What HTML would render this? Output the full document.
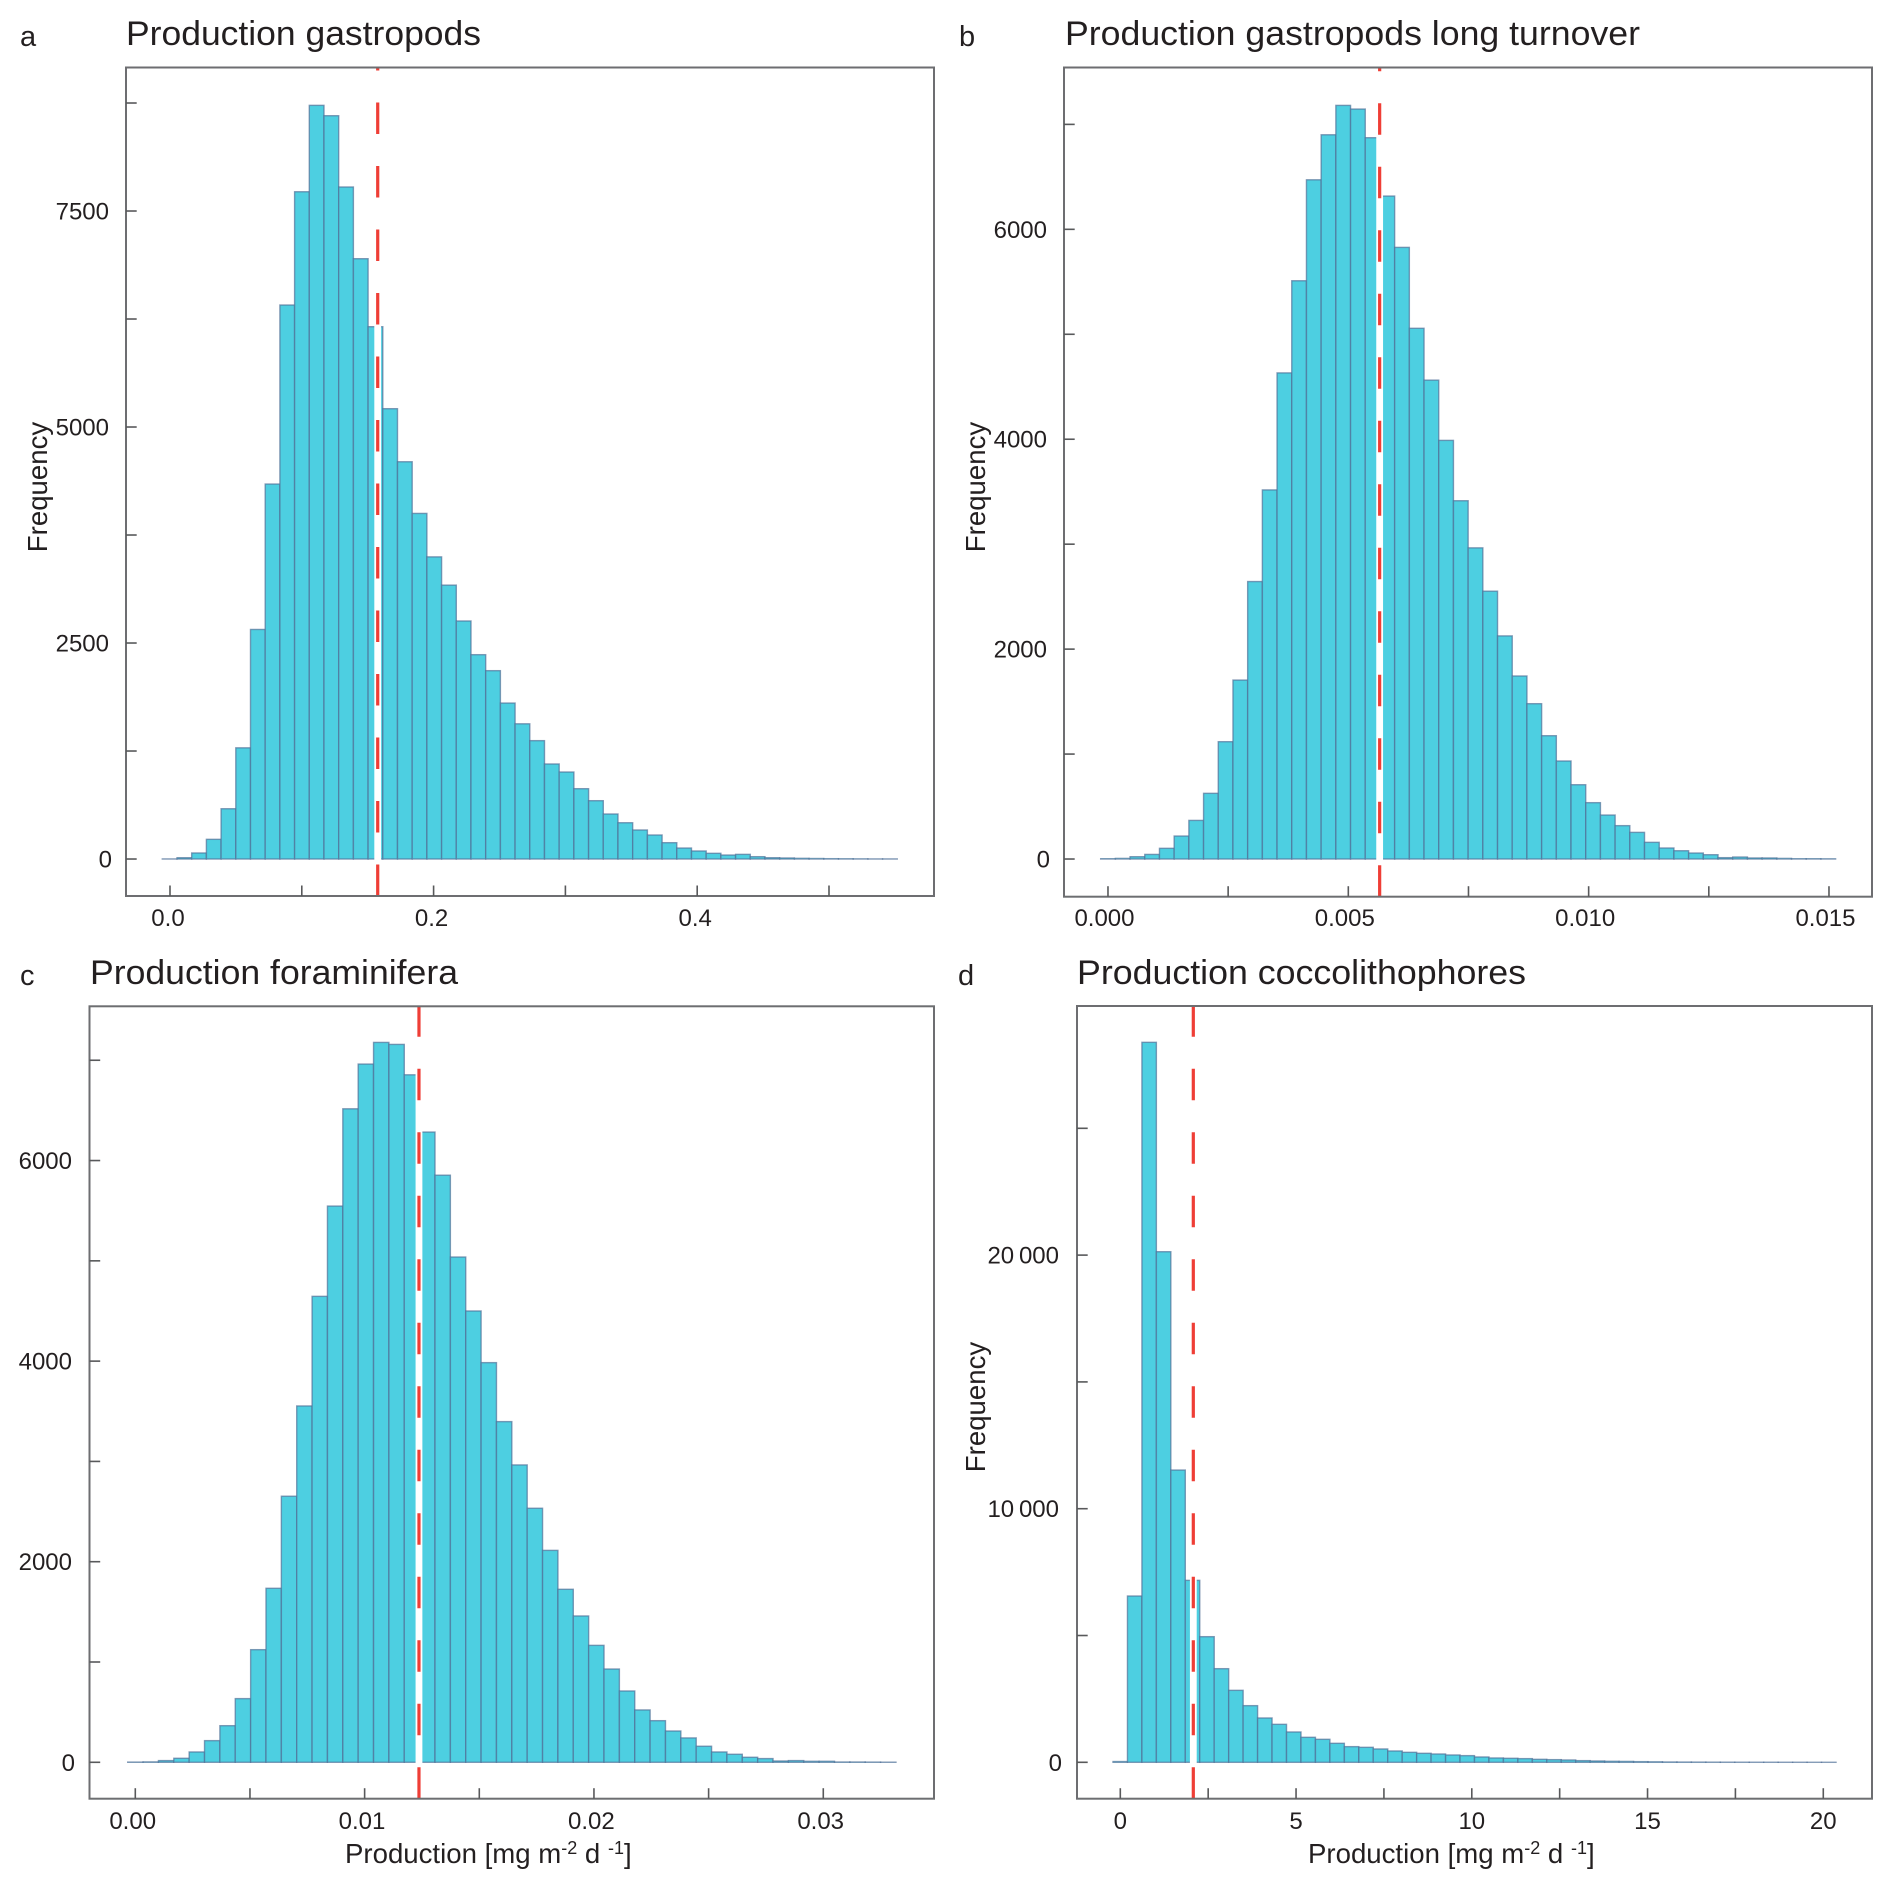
<!DOCTYPE html>
<html lang="en">
<head>
<meta charset="utf-8">
<title>Production histograms</title>
<style>
html,body{margin:0;padding:0;background:#fff}
svg{display:block}
text{font-family:"Liberation Sans",sans-serif;fill:#231f20}
.title{font-size:34px}
.tag{font-size:29px}
.axt{font-size:27.6px}
.tick{font-size:24px}
</style>
</head>
<body>
<svg id="fig" xmlns="http://www.w3.org/2000/svg" width="1892" height="1888" viewBox="0 0 1892 1888">
<rect x="0" y="0" width="1892" height="1888" fill="#fff"/>

<g id="panel-a"></g>
<g id="panel-b"></g>
<g id="panel-c"></g>
<g id="panel-d"></g>

<text class="tag" x="20" y="46">a</text>
<text class="tag" x="959" y="46">b</text>
<text class="tag" x="20" y="985">c</text>
<text class="tag" x="958" y="985">d</text>

<text class="title" x="126" y="45" textLength="355" lengthAdjust="spacingAndGlyphs">Production gastropods</text>
<text class="title" x="1065" y="45" textLength="575" lengthAdjust="spacingAndGlyphs">Production gastropods long turnover</text>
<text class="title" x="90" y="984" textLength="368" lengthAdjust="spacingAndGlyphs">Production foraminifera</text>
<text class="title" x="1077" y="984" textLength="449" lengthAdjust="spacingAndGlyphs">Production coccolithophores</text>

<text class="axt" transform="translate(47 487) rotate(-90)" text-anchor="middle">Frequency</text>
<text class="axt" transform="translate(985 487) rotate(-90)" text-anchor="middle">Frequency</text>
<text class="axt" transform="translate(985 1407) rotate(-90)" text-anchor="middle">Frequency</text>

<text class="axt" x="345" y="1863">Production [mg m<tspan font-size="18" dy="-9">-2</tspan><tspan dy="9"> d </tspan><tspan font-size="18" dy="-9">-1</tspan><tspan dy="9">]</tspan></text>
<text class="axt" x="1308" y="1863">Production [mg m<tspan font-size="18" dy="-9">-2</tspan><tspan dy="9"> d </tspan><tspan font-size="18" dy="-9">-1</tspan><tspan dy="9">]</tspan></text>
</svg>

<script>
// ---- data ----
const aCounts = [1,15,70,228,582,1287,2657,4340,6412,7723,8723,8603,7778,6948,6161,5212,4598,4000,3497,3170,2755,2365,2180,1805,1565,1370,1100,1007,814,675,521,420,336,278,189,127,93,66,46,54,27,15,12,8,6,4,3,2,1,1];
const bCounts = [3,6,22,44,102,219,368,626,1118,1705,2644,3517,4632,5510,6472,6901,7181,7146,6873,6317,5828,5057,4563,3989,3414,2965,2552,2126,1744,1480,1175,934,708,537,419,318,254,159,105,79,57,41,13,19,10,10,6,3,3,2];
const cCounts = [2,4,17,40,103,216,365,635,1123,1735,2653,3553,4646,5546,6516,6962,7178,7158,6855,6284,5854,5038,4500,3985,3397,2965,2533,2113,1725,1459,1166,930,711,522,415,312,243,160,103,80,50,37,13,17,10,10,3,3,2,1];
const dCounts = [30,6557,28391,20134,11524,7175,4954,3692,2838,2234,1748,1498,1196,986,907,749,618,591,526,447,394,355,328,289,263,210,171,158,145,118,105,92,66,52,40,35,26,20,13,10,8,6,5,4,3,3,2,2,1,1];

const aBins = {start:-0.00584, width:0.011153};
const bBins = {start:-0.000152, width:0.0003058};
const cBins = {start:-0.000331, width:0.00067};
const dBins = {start:-0.208, width:0.4114};

const aMean = 0.1576;
const bMean = 0.005652;
const cMean = 0.01237;
const dMean = 2.077;

const aXTicks = [0,0.1,0.2,0.3,0.4,0.5];
const bXTicks = [0,0.0025,0.005,0.0075,0.01,0.0125,0.015];
const cXTicks = [0,0.005,0.01,0.015,0.02,0.025,0.03];
const dXTicks = [0,2.5,5,7.5,10,12.5,15,17.5,20];
const aXLabels = ['0.0','','0.2','','0.4',''];
const bXLabels = ['0.000','','0.005','','0.010','','0.015'];
const cXLabels = ['0.00','','0.01','','0.02','','0.03'];
const dXLabels = ['0','','5','','10','','15','','20'];

const aYTicks = [0,1250,2500,3750,5000,6250,7500,8750];
const bYTicks = [0,1000,2000,3000,4000,5000,6000,7000];
const cYTicks = [0,1000,2000,3000,4000,5000,6000,7000];
const dYTicks = [0,5000,10000,15000,20000,25000];
const aYLabels = ['0','','2500','','5000','','7500',''];
const bYLabels = ['0','','2000','','4000','','6000',''];
const cYLabels = ['0','','2000','','4000','','6000',''];
const dYLabels = ['0','','10\u2009000','','20\u2009000',''];

const aXDomain = [-0.03338,0.57967];
const bXDomain = [-0.000915,0.015895];
const cXDomain = [-0.001997,0.034828];
const dXDomain = [-1.232,21.386];
const aYDomain = [-428,9161];
const bYDomain = [-359,7542];
const cYDomain = [-363,7538];
const dYDomain = [-1435,29823];

// ---- drawing ----
const NS = 'http://www.w3.org/2000/svg';
function make(tag, attrs, parent) {
  const el = document.createElementNS(NS, tag);
  for (const k in attrs) el.setAttribute(k, attrs[k]);
  parent.appendChild(el);
  return el;
}
function scale(domain, p0, p1) {
  return v => p0 + (v - domain[0]) / (domain[1] - domain[0]) * (p1 - p0);
}

function drawPanel(id, o) {
  const g = document.getElementById('panel-' + id);
  const x = scale(o.xDomain, o.l, o.r);
  const y = scale(o.yDomain, o.b, o.t);
  const y0 = y(0);

  o.counts.forEach((count, i) => {
    const x0 = x(o.bins.start + i * o.bins.width);
    const x1 = x(o.bins.start + (i + 1) * o.bins.width);
    const bar = make('rect', {x:x0, y:y(count), width:x1 - x0, height:y0 - y(count), fill:'#4dcfe1', stroke:'#4f6f96', 'stroke-opacity':'0.68', 'stroke-width':'1.4'}, g);
    
    
  });

  const mx = x(o.mean);
  let peak = 0;
  o.counts.forEach((count, i) => {
    const x0 = x(o.bins.start + i * o.bins.width);
    const x1 = x(o.bins.start + (i + 1) * o.bins.width);
    if (x1 > mx - 3.3 && x0 < mx + 3.3 && count > peak) peak = count;
  });
  const strip = make('rect', {x:mx - 3.4, y:y(peak) - 1, width:6.8, height:y0 - y(peak) + 3, fill:'#fff'}, g);
  
  

  const meanLine = make('line', {x1:mx, x2:mx, y1:o.b, y2:o.t, stroke:'#ef3e36', 'stroke-width':'3.2', 'stroke-dasharray':'31.5 32'}, g);
  
  

  const frame = make('rect', {x:o.l, y:o.t, width:o.r - o.l, height:o.b - o.t, fill:'none', stroke:'#6d6e71', 'stroke-width':'2'}, g);
  
  

  o.xTicks.forEach((v, i) => {
    const px = x(v);
    const t = make('line', {x1:px, x2:px, y1:o.b, y2:o.b - 10.5, stroke:'#58595b', 'stroke-width':'1.6'}, g);
    
    
    if (o.xLabels[i]) {
      const lab = make('text', {class:'tick', x:px + o.xShift, y:o.xBase, 'text-anchor':'middle'}, g);
      
      
      lab.textContent = o.xLabels[i];
    }
  });

  o.yTicks.forEach((v, i) => {
    const py = y(v);
    const t = make('line', {x1:o.l, x2:o.l + 10.7, y1:py, y2:py, stroke:'#58595b', 'stroke-width':'1.6'}, g);
    
    
    if (o.yLabels[i]) {
      const lab = make('text', {class:'tick', x:o.yEnd + (v === 0 ? 3 : 0), y:py + 8.5, 'text-anchor':'end'}, g);
      
      
      lab.textContent = o.yLabels[i];
    }
  });
}

drawPanel('a', {l:126, r:934, t:67.5, b:896, counts:aCounts, bins:aBins, mean:aMean, xDomain:aXDomain, yDomain:aYDomain, xTicks:aXTicks, xLabels:aXLabels, yTicks:aYTicks, yLabels:aYLabels, xShift:-2, xBase:926, yEnd:109});
drawPanel('b', {l:1064, r:1872, t:67.5, b:896.7, counts:bCounts, bins:bBins, mean:bMean, xDomain:bXDomain, yDomain:bYDomain, xTicks:bXTicks, xLabels:bXLabels, yTicks:bYTicks, yLabels:bYLabels, xShift:-3.5, xBase:926, yEnd:1047});
drawPanel('c', {l:89.5, r:934, t:1006.3, b:1798.7, counts:cCounts, bins:cBins, mean:cMean, xDomain:cXDomain, yDomain:cYDomain, xTicks:cXTicks, xLabels:cXLabels, yTicks:cYTicks, yLabels:cYLabels, xShift:-2.6, xBase:1829, yEnd:72});
drawPanel('d', {l:1077, r:1872, t:1006, b:1798.7, counts:dCounts, bins:dBins, mean:dMean, xDomain:dXDomain, yDomain:dYDomain, xTicks:dXTicks, xLabels:dXLabels, yTicks:dYTicks, yLabels:dYLabels, xShift:0, xBase:1829, yEnd:1059});
</script>
</body>
</html>
